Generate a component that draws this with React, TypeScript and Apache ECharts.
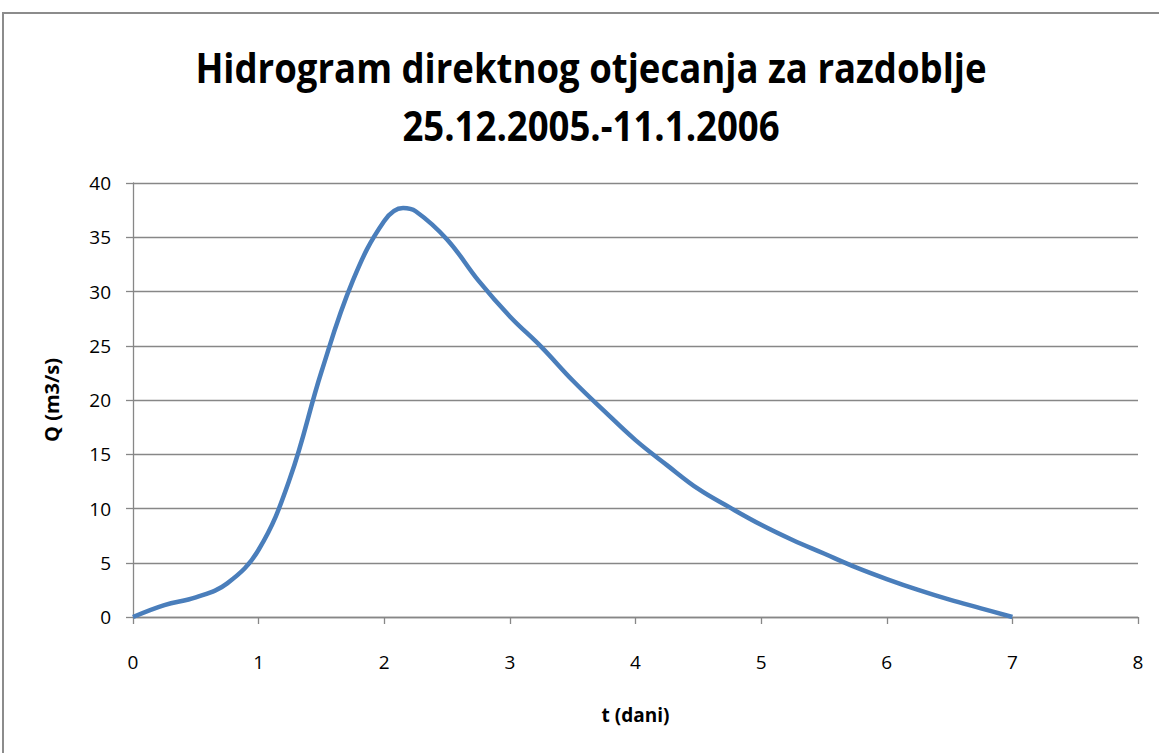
import React, { useEffect, useRef } from "react";
import * as echarts from "echarts";

// Direct runoff hydrograph: time in days, discharge in m3/s
const timeDays = [
  0, 0.25, 0.5, 0.75, 1, 1.25, 1.5, 1.75, 2, 2.15, 2.25, 2.5, 2.75, 3, 3.25,
  3.5, 3.75, 4, 4.25, 4.5, 4.75, 5, 5.25, 5.5, 5.75, 6, 6.25, 6.5, 6.75, 7,
];
const discharge = [
  0, 1.1, 1.8, 3.1, 6.2, 12.8, 22.6, 31.0, 36.5, 37.7, 37.4, 34.8, 31.0, 27.7,
  24.9, 21.8, 19.0, 16.3, 14.0, 11.8, 10.1, 8.5, 7.1, 5.85, 4.6, 3.5, 2.5, 1.6,
  0.8, 0,
];
const xTicks = { min: 0, max: 8, interval: 1 };
const yTicks = { min: 0, max: 40, interval: 5 };

const titleLines = ["Hidrogram direktnog otjecanja za razdoblje", "25.12.2005.-11.1.2006"];
const xName = "t (dani)";
const yName = "Q (m3/s)";

const FONT = "'Open Sans', 'Noto Sans', sans-serif";
const GRID_GRAY = "#878787";

export default function App() {
  const ref = useRef<HTMLDivElement>(null);

  useEffect(() => {
    if (!ref.current) return;
    const chart = echarts.init(ref.current, undefined, { renderer: "svg" });
    const points = timeDays.map((t, i) => [t, discharge[i]]);

    const titleText = (text: string, baseline: number) => ({
      type: "text",
      x: 0,
      y: baseline,
      style: {
        text,
        fontFamily: FONT,
        fontWeight: "bold",
        fontSize: 42,
        fill: "#000000",
        textAlign: "center",
        textVerticalAlign: "bottom",
      },
    });

    chart.setOption({
      animation: false,
      backgroundColor: "#ffffff",
      graphic: [
        {
          type: "rect",
          shape: { x: 3, y: 13, width: 1200, height: 800 },
          style: { fill: "none", stroke: "#8c8c8c", lineWidth: 2 },
          silent: true,
        },
        {
          type: "group",
          x: 591,
          y: 0,
          scaleX: 0.87,
          silent: true,
          children: [titleText(titleLines[0], 88), titleText(titleLines[1], 146)],
        },
      ],
      grid: { left: 133, right: 21, top: 183, bottom: 136, containLabel: false },
      xAxis: {
        type: "value",
        min: xTicks.min,
        max: xTicks.max,
        interval: xTicks.interval,
        name: xName,
        nameLocation: "middle",
        nameGap: 88,
        nameTextStyle: { fontFamily: FONT, fontWeight: "bold", fontSize: 19, color: "#000" },
        axisLine: { show: true, lineStyle: { color: GRID_GRAY, width: 1.3 } },
        axisTick: { show: true, length: 7, lineStyle: { color: GRID_GRAY, width: 1.3 } },
        axisLabel: { fontFamily: FONT, fontSize: 19, color: "#000", margin: 35 },
        splitLine: { show: false },
      },
      yAxis: {
        type: "value",
        min: yTicks.min,
        max: yTicks.max,
        interval: yTicks.interval,
        name: yName,
        nameLocation: "middle",
        nameGap: 72,
        nameRotate: 90,
        nameTextStyle: { fontFamily: FONT, fontWeight: "bold", fontSize: 20, color: "#000" },
        axisLine: { show: true, lineStyle: { color: GRID_GRAY, width: 1.3 } },
        axisTick: { show: true, length: 7, lineStyle: { color: GRID_GRAY, width: 1.3 } },
        axisLabel: { fontFamily: FONT, fontSize: 19, color: "#000", margin: 22 },
        splitLine: { show: true, lineStyle: { color: GRID_GRAY, width: 1.3 } },
      },
      series: [
        {
          type: "line",
          data: points,
          smooth: 0.4,
          showSymbol: false,
          symbol: "none",
          lineStyle: { color: "#4a7ebb", width: 4.5 },
        },
      ],
    });

    return () => chart.dispose();
  }, []);

  return (
    <div
      ref={ref}
      style={{ position: "fixed", left: 0, top: 0, width: 1159, height: 753 }}
    />
  );
}
